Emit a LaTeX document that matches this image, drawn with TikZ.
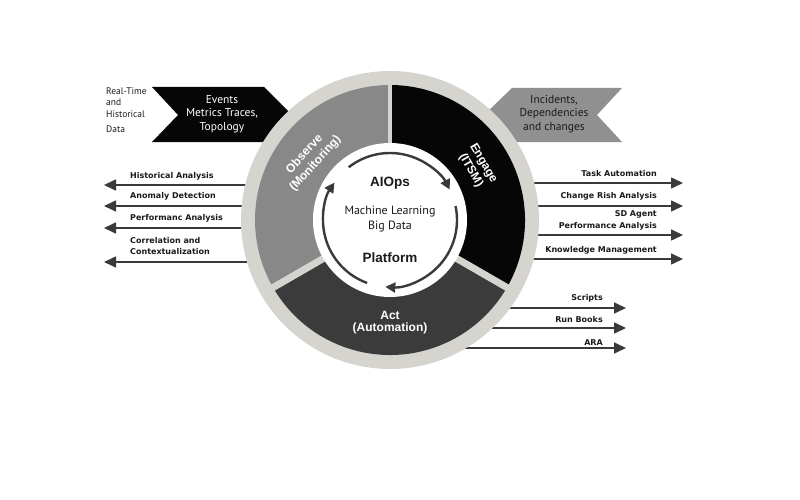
\documentclass[tikz,border=0pt]{standalone}
\usepackage{fontspec}
\setmainfont{Liberation Sans}
\newfontfamily\hum{PT Sans}
\newfontfamily\lblfont{DejaVu Sans}
\usetikzlibrary{arrows.meta}
\definecolor{band}{HTML}{D5D4CF}
\definecolor{obscol}{HTML}{878887}
\definecolor{actcol}{HTML}{3B3B3B}
\definecolor{engcol}{HTML}{060606}
\definecolor{rgray}{HTML}{8F908F}
\definecolor{arrowc}{HTML}{3A3A3A}
\definecolor{txtc}{HTML}{1A1A1A}
\tikzset{
  outarrow/.style={draw=arrowc, line width=1.6pt, -{Triangle[length=12pt,width=11pt]}},
  cyclearrow/.style={draw=arrowc, line width=2.4pt, -{Triangle[length=10pt,width=10pt]}},
  lbl/.style={font=\lblfont\bfseries\fontsize{8}{11.5}\selectfont, text=txtc, inner sep=0pt},
  seglbl/.style={font=\fontsize{12}{14.5}\selectfont\bfseries, text=white, align=center, inner sep=0pt},
  bantext/.style={font=\hum\fontsize{11.5}{13.8}\selectfont, align=center, inner sep=0pt},
}
\begin{document}
\begin{tikzpicture}[x=1pt,y=-1pt]
\useasboundingbox (0,0) rectangle (800,500);
\coordinate (c) at (390,220);

% left arrows
\coordinate (l1s) at (300,185); \coordinate (l1e) at (104,185);
\coordinate (l2s) at (300,206); \coordinate (l2e) at (104,206);
\coordinate (l3s) at (300,228); \coordinate (l3e) at (104,228);
\coordinate (l4s) at (300,262); \coordinate (l4e) at (104,262);
\draw[outarrow] (l1s) -- (l1e);
\draw[outarrow] (l2s) -- (l2e);
\draw[outarrow] (l3s) -- (l3e);
\draw[outarrow] (l4s) -- (l4e);
\node[lbl, anchor=base west] (hist) at (130,178) {Historical Analysis};
\node[lbl, anchor=base west] (anom) at (130,198) {Anomaly Detection};
\node[lbl, anchor=base west] (perf) at (130,220) {Performanc Analysis};
\node[lbl, anchor=west, align=left, font=\lblfont\bfseries\fontsize{8}{11}\selectfont] (corr) at (130,246.5) {Correlation and\\Contextualization};

% right arrows
\coordinate (r1s) at (480,183); \coordinate (r1e) at (683,183);
\coordinate (r2s) at (480,206); \coordinate (r2e) at (683,206);
\coordinate (r3s) at (480,235); \coordinate (r3e) at (683,235);
\coordinate (r4s) at (480,259); \coordinate (r4e) at (683,259);
\draw[outarrow] (r1s) -- (r1e);
\draw[outarrow] (r2s) -- (r2e);
\draw[outarrow] (r3s) -- (r3e);
\draw[outarrow] (r4s) -- (r4e);
\node[lbl, anchor=base east] (task) at (657,176) {Task Automation};
\node[lbl, anchor=base east] (chg) at (657,198) {Change Rish Analysis};
\node[lbl, anchor=east, align=right, font=\lblfont\bfseries\fontsize{8}{12}\selectfont] (sda) at (657,220) {SD Agent\\Performance Analysis};
\node[lbl, anchor=base east] (know) at (657,252) {Knowledge Management};

% bottom right arrows
\coordinate (b1s) at (440,308); \coordinate (b1e) at (626,308);
\coordinate (b2s) at (440,328); \coordinate (b2e) at (626,328);
\coordinate (b3s) at (440,348); \coordinate (b3e) at (626,348);
\draw[outarrow] (b1s) -- (b1e);
\draw[outarrow] (b2s) -- (b2e);
\draw[outarrow] (b3s) -- (b3e);
\node[lbl, anchor=base east] (scr) at (603,300) {Scripts};
\node[lbl, anchor=base east] (rb) at (603,322) {Run Books};
\node[lbl, anchor=base east] (ara) at (603,345) {ARA};

% banners
\fill[engcol] (152,87) -- (264,87) -- (292,115) -- (264,142) -- (152,142) -- (178,115) -- cycle;
\node[bantext, text=white] (ev) at (222,114) {Events\\Metrics Traces,\\Topology};
\fill[rgray] (512,88) -- (622,88) -- (597,115) -- (622,142) -- (512,142) -- (484,115) -- cycle;
\node[bantext, text=txtc] (inc) at (554,114) {Incidents,\\Dependencies\\and changes};
\node[font=\hum\fontsize{9.5}{11.5}\selectfont, align=left, anchor=north west, inner sep=0pt, text=txtc] (rt) at (106,87.5) {Real-Time\\and\\Historical\\[3.5pt]Data};

% wheel
\fill[band] (c) circle (149);
\fill[obscol] (c) -- ++(-90:135) arc[start angle=-90, end angle=-210, radius=135] -- cycle;
\fill[engcol] (c) -- ++(30:135) arc[start angle=30, end angle=-90, radius=135] -- cycle;
\fill[actcol] (c) -- ++(-210:135) arc[start angle=-210, end angle=-330, radius=135] -- cycle;
\draw[band, line width=4.5pt] (c) -- ++(-90:140);
\draw[band, line width=7pt] (c) -- ++(-210:140);
\draw[band, line width=7pt] (c) -- ++(30:140);
\fill[white] (c) circle (77);

% cycle arrows
\draw[cyclearrow] (c) ++(-128:67) arc[start angle=-128, end angle=-27, radius=67];
\draw[cyclearrow] (c) ++(-12:67) arc[start angle=-12, end angle=94, radius=67];
\draw[cyclearrow] (c) ++(110:67) arc[start angle=110, end angle=214, radius=67];

% center text
\node[font=\fontsize{13.5}{15}\selectfont\bfseries, text=txtc, inner sep=0pt] (aiops) at (390,183) {AIOps};
\node[font=\hum\fontsize{12}{14.5}\selectfont, align=center, text=txtc, inner sep=0pt] (ml) at (390,219) {Machine Learning\\Big Data};
\node[font=\fontsize{13.5}{15}\selectfont\bfseries, text=txtc, inner sep=0pt] (plat) at (390,258) {Platform};

% segment labels
\node[seglbl, rotate=48] (obs) at (310,159) {Observe\\(Monitoring)};
\node[seglbl, rotate=-60] (eng) at (477,167) {Engage\\(ITSM)};
\node[seglbl, font=\fontsize{12}{12}\selectfont\bfseries] (act) at (390,323) {Act\\(Automation)};
\end{tikzpicture}
\end{document}
